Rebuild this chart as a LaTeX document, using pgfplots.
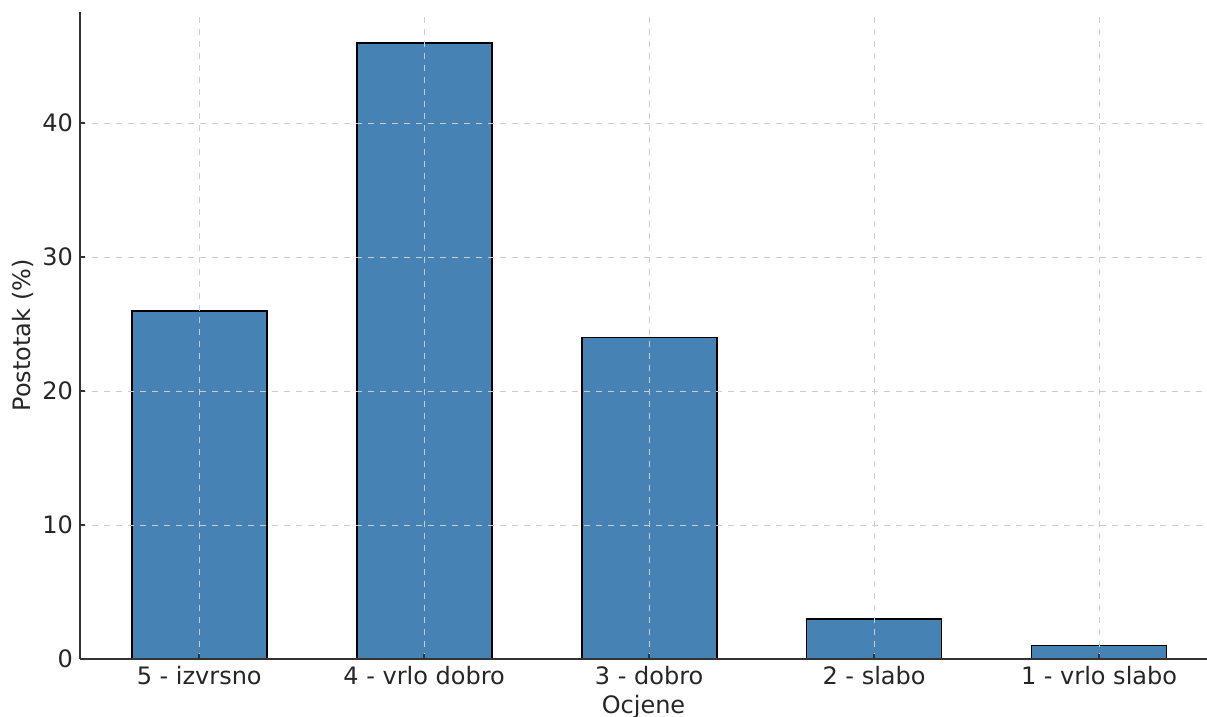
\documentclass[border=0pt]{standalone}
\usepackage{fontspec}
\setmainfont{DejaVu Sans}
\usepackage{pgfplots}
\pgfplotsset{compat=1.18}
\definecolor{barblue}{HTML}{4682B4}
\definecolor{txt}{HTML}{262626}
\begin{document}
\begin{tikzpicture}
\begin{axis}[
    at={(0,0)}, anchor=south west,
    scale only axis,
    width=563.5pt, height=323.5pt,
    xmin=-0.53, xmax=4.48,
    ymin=0, ymax=48.3,
    axis x line*=bottom, axis y line*=left,
    axis line style={draw=black!80, line width=0.8pt},
    tick align=inside,
    major tick length=2.5pt,
    tick style={draw=black!80, line width=0.8pt},
    xtick={0,1,2,3,4},
    xticklabels={5 - izvrsno, 4 - vrlo dobro, 3 - dobro, 2 - slabo, 1 - vrlo slabo},
    ytick={0,10,20,30,40},
    /pgf/number format/assume math mode=true,
    ticklabel style={font=\fontsize{12}{14}\selectfont, text=txt},
    label style={font=\fontsize{12}{14}\selectfont, text=txt},
    xlabel={Ocjene},
    ylabel={Postotak (\%)},
    xlabel style={at={(axis description cs:0.5,0)}, anchor=north, yshift=-14.5pt},
    ylabel style={yshift=-2.5pt},
    grid=major,
    major grid style={dashed, draw=black!20, line width=0.4pt},
    axis on top,
    clip=false,
]
\addplot[ybar, bar width=0.6, fill=barblue, draw=black, line width=0.9pt]
    coordinates {(0,26) (1,46) (2,24) (3,3) (4,1)};
\end{axis}
\pgfresetboundingbox
\path (-40pt,-29pt) rectangle (563.5pt,329.5pt);
\end{tikzpicture}
\end{document}
